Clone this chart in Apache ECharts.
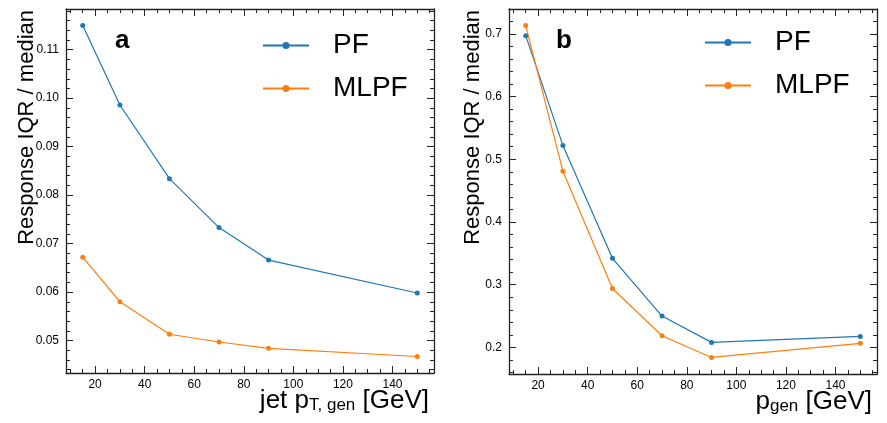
<!DOCTYPE html>
<html>
<head>
<meta charset="utf-8">
<script src="https://cdn.jsdelivr.net/npm/echarts@6/dist/echarts.min.js"></script>
<style>
  html, body { margin: 0; padding: 0; background: #fff; }
  #chart { width: 887px; height: 423px; }
</style>
</head>
<body>
<div id="chart"></div>
<script>
// generator-level pT / p bins [GeV]
const ptGen = [15, 30, 50, 70, 90, 150];

// panel a: jet response IQR / median
const jetPF   = [0.1150, 0.0986, 0.0834, 0.0733, 0.0666, 0.0598];
const jetMLPF = [0.0672, 0.0580, 0.0513, 0.0497, 0.0484, 0.0467];

// panel b: particle response IQR / median
const partPF   = [0.697, 0.522, 0.342, 0.250, 0.208, 0.2175];
const partMLPF = [0.713, 0.481, 0.294, 0.2185, 0.184, 0.2065];

const seriesNames = ['PF', 'MLPF'];
const panelLabels = ['a', 'b'];

const FONT = 'Liberation Sans';
const INK = '#222';
const BLUE = '#1f77b4';
const ORANGE = '#ff7f0e';

// axis limits (matplotlib-like 5% margins)
const X_MIN = 8.25, X_MAX = 156.75;
const YA_MIN = 0.0433, YA_MAX = 0.1184;
const YB_MIN = 0.1576, YB_MAX = 0.7395;

function pairs(ys) { return ptGen.map(function (x, i) { return [x, ys[i]]; }); }

function frame(extra) {
  return Object.assign({
    type: 'value',
    axisLine: { onZero: false, lineStyle: { color: INK, width: 1.3 } },
    axisTick: { show: true, inside: true, length: 7, lineStyle: { color: INK, width: 1 } },
    minorTick: { show: true, length: 4, lineStyle: { color: INK, width: 1 } },
    splitLine: { show: false },
    minorSplitLine: { show: false },
    nameMoveOverlap: false
  }, extra);
}

function xPair(grid, name, rich) {
  const common = { gridIndex: grid, min: X_MIN, max: X_MAX, splitNumber: 7 };
  const bottom = frame(Object.assign({}, common, {
    position: 'bottom',
    minorTick: { show: true, splitNumber: 4, length: 4, lineStyle: { color: INK, width: 1 } },
    axisLabel: { show: true, margin: 6, fontSize: 12, color: '#000', fontFamily: FONT,
                 showMinLabel: false, showMaxLabel: false },
    name: name,
    nameLocation: 'end',
    nameGap: -5,
    nameTextStyle: { fontSize: 26, color: '#000', fontFamily: FONT, align: 'right',
                     verticalAlign: 'top', padding: [15, 0, 0, 0], rich: rich }
  }));
  const top = frame(Object.assign({}, common, {
    position: 'top',
    minorTick: { show: true, splitNumber: 4, length: 4, lineStyle: { color: INK, width: 1 } },
    axisLabel: { show: false }
  }));
  return [bottom, top];
}

function yPair(grid, min, max, split, digits, pad) {
  const common = { gridIndex: grid, min: min, max: max, splitNumber: split };
  const left = frame(Object.assign({}, common, {
    position: 'left',
    minorTick: { show: true, splitNumber: 5, length: 4, lineStyle: { color: INK, width: 1 } },
    axisLabel: { show: true, margin: 7, fontSize: 12, color: '#000', fontFamily: FONT,
                 showMinLabel: false, showMaxLabel: false,
                 formatter: function (v) { return v.toFixed(digits); } },
    name: 'Response IQR / median',
    nameLocation: 'end',
    nameRotate: 90,
    nameGap: -1,
    nameTextStyle: { fontSize: 22, color: '#000', fontFamily: FONT, align: 'right',
                     verticalAlign: 'bottom', padding: [0, 0, pad, 0] }
  }));
  const right = frame(Object.assign({}, common, {
    position: 'right',
    minorTick: { show: true, splitNumber: 5, length: 4, lineStyle: { color: INK, width: 1 } },
    axisLabel: { show: false }
  }));
  return [left, right];
}

const subRich = { s: { fontSize: 17, fontFamily: FONT, color: '#000', lineHeight: 13, verticalAlign: 'bottom' } };

function line(name, color, xi, yi, ys) {
  return {
    name: name, type: 'line', xAxisIndex: xi, yAxisIndex: yi,
    data: pairs(ys),
    symbol: 'circle', symbolSize: 5,
    lineStyle: { color: color, width: 1.2 },
    itemStyle: { color: color },
    emphasis: { disabled: true }
  };
}

function legendAt(left, top) {
  return {
    data: seriesNames, left: left, top: top, orient: 'vertical',
    padding: 0, itemGap: 15, itemWidth: 46, itemHeight: 9,
    textStyle: { fontSize: 28, color: '#000', fontFamily: FONT, padding: [0, 0, 0, 19] }
  };
}

const chart = echarts.init(document.getElementById('chart'), null, { renderer: 'canvas' });
chart.setOption({
  animation: false,
  backgroundColor: '#fff',
  textStyle: { fontFamily: FONT },
  title: [
    { text: panelLabels[0], left: 115, top: 28, padding: 0,
      textStyle: { fontSize: 26, fontWeight: 'bold', color: '#000', fontFamily: FONT } },
    { text: panelLabels[1], left: 556, top: 28, padding: 0,
      textStyle: { fontSize: 26, fontWeight: 'bold', color: '#000', fontFamily: FONT } }
  ],
  legend: [legendAt(262, 31.5), legendAt(704, 28.5)],
  grid: [
    { left: 66, top: 9, width: 368, height: 364, outerBoundsMode: 'none', containLabel: false },
    { left: 509, top: 9, width: 368, height: 365, outerBoundsMode: 'none', containLabel: false }
  ],
  xAxis: xPair(0, 'jet p{s|T, gen} [GeV]', subRich).concat(xPair(1, 'p{s|gen} [GeV]', subRich)),
  yAxis: yPair(0, YA_MIN, YA_MAX, 7, 2, 28).concat(yPair(1, YB_MIN, YB_MAX, 6, 1, 25)),
  series: [
    line(seriesNames[0], BLUE, 0, 0, jetPF),
    line(seriesNames[1], ORANGE, 0, 0, jetMLPF),
    line(seriesNames[0], BLUE, 2, 2, partPF),
    line(seriesNames[1], ORANGE, 2, 2, partMLPF)
  ]
});
</script>
</body>
</html>
